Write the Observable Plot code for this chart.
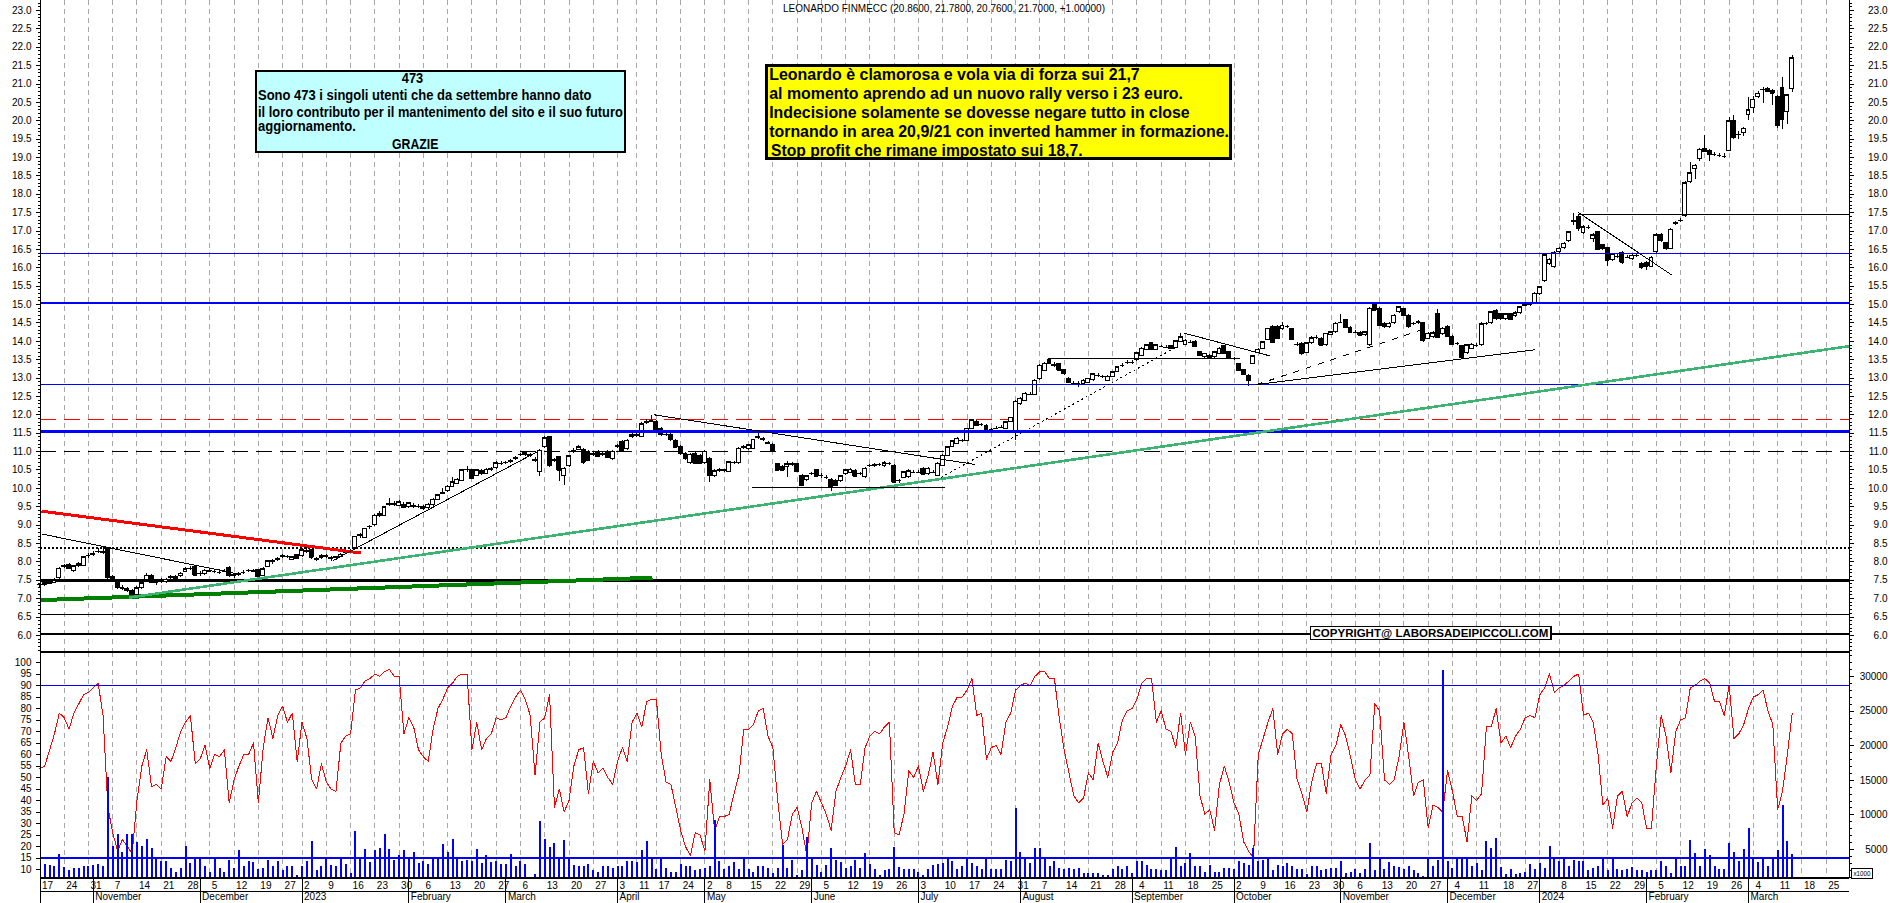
<!DOCTYPE html>
<html><head><meta charset="utf-8">
<script src="https://cdn.jsdelivr.net/npm/d3@7"></script>
<script src="https://cdn.jsdelivr.net/npm/@observablehq/plot@0.6"></script>
<style>
html,body{margin:0;padding:0;background:#fff;overflow:hidden}
#root{position:relative;width:1890px;height:903px;background:#fff;overflow:hidden}
#root svg{position:absolute;left:0;display:block;max-width:none}
</style></head><body><div id="root"></div>
<script>
// ---------------- DATA ----------------
const TITLE_NAME = "LEONARDO FINMECC";
const LAST_CHANGE = 1.0;
const START_DATE = "2022-10-17", END_DATE = "2024-03-28";
const HOLIDAYS = ["2022-12-26","2023-04-07","2023-04-10","2023-05-01","2023-12-25","2023-12-26","2024-01-01","2024-03-29"];
const WEEK_LABEL_SKIP = ["2024-01-02"];
const MONTH_NAMES = ["January","February","March","April","May","June","July","August","September","October","November","December"];

// daily candles [open, high, low, close]
const CANDLES = [
[7.36,7.42,7.30,7.38],[7.38,7.46,7.34,7.42],[7.48,7.52,7.38,7.40],[7.42,7.56,7.40,7.50],[7.55,7.86,7.52,7.82],[7.86,7.92,7.82,7.88],[7.92,7.96,7.80,7.82],[7.76,7.90,7.72,7.88],[7.90,7.98,7.86,7.93],[7.90,8.16,7.88,8.13],
[8.15,8.24,8.10,8.17],[8.20,8.28,8.14,8.22],[8.26,8.36,8.22,8.28],[8.28,8.38,8.20,8.25],[8.38,8.40,7.52,7.57],[7.60,7.64,7.46,7.50],[7.50,7.52,7.26,7.30],[7.30,7.36,7.22,7.28],[7.25,7.30,7.16,7.22],[7.22,7.26,7.03,7.08],
[7.10,7.32,7.06,7.28],[7.30,7.46,7.26,7.42],[7.50,7.68,7.46,7.62],[7.62,7.66,7.40,7.45],[7.44,7.50,7.36,7.43],[7.46,7.54,7.42,7.48],[7.44,7.56,7.40,7.52],[7.56,7.62,7.52,7.58],[7.60,7.64,7.52,7.56],[7.62,7.72,7.58,7.68],
[7.72,7.84,7.70,7.80],[7.80,7.88,7.76,7.82],[7.86,7.88,7.60,7.64],[7.66,7.74,7.60,7.68],[7.68,7.80,7.64,7.76],[7.76,7.80,7.70,7.75],[7.74,7.78,7.68,7.74],[7.72,7.78,7.66,7.72],[7.74,7.80,7.70,7.74],[7.84,7.88,7.58,7.62],
[7.62,7.68,7.56,7.64],[7.64,7.72,7.60,7.66],[7.70,7.76,7.66,7.70],[7.74,7.80,7.70,7.76],[7.76,7.80,7.70,7.74],[7.78,7.80,7.56,7.60],[7.62,7.84,7.60,7.80],[7.86,8.04,7.84,8.02],[8.02,8.06,7.94,8.00],[8.06,8.12,8.02,8.08],
[8.14,8.20,8.10,8.15],[8.14,8.18,8.08,8.14],[8.06,8.16,8.04,8.12],[8.18,8.20,8.08,8.10],[8.15,8.36,8.12,8.32],[8.30,8.38,8.22,8.28],[8.32,8.34,8.06,8.12],[8.08,8.12,8.00,8.06],[8.10,8.20,8.06,8.15],[8.15,8.20,8.10,8.14],
[8.10,8.14,8.02,8.08],[8.10,8.16,8.04,8.12],[8.14,8.22,8.12,8.20],[8.24,8.30,8.20,8.26],[8.28,8.34,8.24,8.30],[8.38,8.70,8.36,8.68],[8.70,8.78,8.64,8.72],[8.66,8.92,8.64,8.90],[8.94,9.00,8.88,8.96],[8.99,9.28,8.96,9.26],
[9.24,9.36,9.20,9.30],[9.26,9.52,9.24,9.49],[9.56,9.72,9.52,9.58],[9.58,9.64,9.50,9.56],[9.53,9.66,9.50,9.62],[9.56,9.62,9.44,9.47],[9.48,9.62,9.46,9.60],[9.52,9.58,9.46,9.50],[9.50,9.56,9.44,9.50],[9.50,9.54,9.40,9.44],
[9.46,9.58,9.42,9.55],[9.54,9.72,9.52,9.69],[9.69,9.84,9.66,9.81],[9.86,10.00,9.82,9.88],[9.94,10.08,9.90,10.05],[10.05,10.30,10.02,10.17],[10.12,10.26,10.10,10.23],[10.21,10.52,10.18,10.49],[10.50,10.60,10.44,10.50],[10.49,10.52,10.24,10.26],
[10.35,10.52,10.32,10.49],[10.48,10.52,10.36,10.40],[10.40,10.54,10.38,10.50],[10.50,10.56,10.46,10.52],[10.55,10.72,10.52,10.69],[10.68,10.72,10.62,10.68],[10.70,10.74,10.64,10.70],[10.72,10.78,10.68,10.74],[10.80,10.86,10.76,10.83],[10.90,10.96,10.86,10.92],
[10.96,11.00,10.88,10.91],[10.90,10.94,10.84,10.89],[10.78,10.84,10.70,10.76],[10.44,11.06,10.32,11.03],[11.12,11.40,11.08,11.37],[11.39,11.42,10.58,10.62],[10.74,10.82,10.70,10.76],[10.85,10.88,10.20,10.49],[10.35,10.56,10.08,10.53],[10.62,10.90,10.58,10.87],
[11.00,11.08,10.96,11.03],[11.05,11.16,11.02,11.12],[11.05,11.08,10.66,10.71],[10.98,11.02,10.72,10.76],[10.92,10.98,10.88,10.94],[10.99,11.02,10.84,10.87],[10.92,10.98,10.88,10.94],[10.99,11.02,10.82,10.85],[10.80,11.02,10.76,10.99],[11.12,11.18,11.08,11.14],
[11.26,11.30,10.98,11.01],[11.08,11.34,11.04,11.30],[11.40,11.48,11.36,11.44],[11.42,11.50,11.38,11.44],[11.41,11.78,11.38,11.74],[11.78,11.86,11.74,11.80],[11.82,11.98,11.78,11.83],[11.80,11.84,11.54,11.57],[11.62,11.66,11.42,11.46],[11.46,11.50,11.40,11.46],
[11.44,11.48,11.28,11.32],[11.30,11.34,11.08,11.12],[11.12,11.16,10.90,10.94],[10.94,10.98,10.76,10.80],[10.69,10.96,10.66,10.92],[10.94,10.98,10.66,10.69],[10.87,10.92,10.66,10.69],[10.69,11.04,10.66,11.00],[10.80,10.84,10.17,10.35],[10.35,10.50,10.30,10.47],
[10.47,10.54,10.44,10.49],[10.48,10.52,10.44,10.49],[10.44,10.74,10.42,10.71],[10.70,10.74,10.66,10.70],[10.69,11.10,10.66,11.08],[11.10,11.16,11.06,11.12],[11.08,11.20,11.04,11.17],[11.08,11.34,11.06,11.32],[11.38,11.50,11.34,11.40],[11.34,11.38,11.28,11.32],
[11.24,11.28,11.18,11.22],[11.19,11.22,11.00,11.03],[10.65,10.68,10.46,10.49],[10.58,10.62,10.46,10.49],[10.58,10.72,10.30,10.65],[10.64,10.70,10.60,10.66],[10.65,10.68,10.44,10.47],[10.35,10.38,10.06,10.08],[10.22,10.36,10.18,10.33],[10.38,10.44,10.34,10.40],
[10.49,10.52,10.30,10.33],[10.34,10.40,10.28,10.35],[10.30,10.34,10.24,10.30],[10.24,10.26,9.92,10.03],[10.21,10.24,10.04,10.08],[10.20,10.36,10.16,10.33],[10.38,10.52,10.34,10.49],[10.42,10.54,10.40,10.51],[10.47,10.50,10.30,10.33],[10.38,10.44,10.34,10.40],
[10.31,10.56,10.28,10.53],[10.60,10.66,10.56,10.62],[10.62,10.68,10.58,10.64],[10.64,10.68,10.60,10.64],[10.60,10.72,10.58,10.69],[10.66,10.70,10.62,10.67],[10.60,10.64,10.14,10.17],[10.20,10.24,10.14,10.21],[10.28,10.46,10.26,10.44],[10.31,10.50,10.28,10.47],
[10.44,10.48,10.40,10.44],[10.44,10.48,10.40,10.44],[10.53,10.56,10.36,10.38],[10.38,10.56,10.36,10.53],[10.44,10.48,10.40,10.44],[10.35,10.70,10.32,10.67],[10.62,10.92,10.60,10.89],[10.89,11.14,10.86,11.12],[11.12,11.30,11.10,11.28],[11.21,11.38,11.18,11.35],
[11.30,11.34,11.26,11.30],[11.30,11.64,11.28,11.62],[11.62,11.88,11.60,11.85],[11.80,11.84,11.68,11.71],[11.73,11.76,11.68,11.73],[11.71,11.74,11.54,11.57],[11.59,11.62,11.55,11.59],[11.64,11.68,11.60,11.64],[11.66,11.70,11.62,11.66],[11.62,11.82,11.60,11.80],
[11.80,11.94,11.78,11.92],[11.53,12.38,11.30,12.35],[12.30,12.46,12.26,12.44],[12.39,12.60,12.36,12.57],[12.56,12.62,12.52,12.56],[12.55,12.96,12.52,12.93],[12.98,13.38,12.94,13.34],[13.20,13.42,13.18,13.39],[13.48,13.52,13.36,13.39],[13.36,13.42,13.30,13.34],
[13.37,13.40,13.18,13.21],[13.21,13.24,13.08,13.12],[12.98,13.02,12.86,12.89],[12.86,12.92,12.80,12.86],[12.86,12.90,12.75,12.86],[12.84,12.96,12.80,12.93],[12.88,13.00,12.86,12.98],[12.95,13.12,12.92,13.10],[13.07,13.12,13.02,13.07],[13.03,13.08,12.98,13.03],
[12.93,13.06,12.90,13.03],[13.04,13.18,13.02,13.16],[13.16,13.32,13.14,13.30],[13.34,13.40,13.30,13.34],[13.43,13.48,13.38,13.43],[13.43,13.48,13.38,13.43],[13.48,13.70,13.46,13.68],[13.61,13.84,13.58,13.80],[13.77,13.92,13.74,13.89],[13.95,13.98,13.74,13.77],
[13.77,13.92,13.74,13.89],[13.86,13.90,13.82,13.86],[13.84,13.88,13.80,13.84],[13.86,13.90,13.78,13.80],[13.82,14.02,13.80,14.00],[13.98,14.22,13.96,14.11],[13.91,14.04,13.88,14.02],[13.98,14.02,13.94,13.98],[13.99,14.02,13.84,13.86],[13.70,13.72,13.58,13.61],
[13.57,13.68,13.54,13.66],[13.61,13.64,13.50,13.52],[13.57,13.72,13.54,13.70],[13.66,13.82,13.64,13.80],[13.86,13.88,13.64,13.66],[13.70,13.72,13.54,13.57],[13.52,13.56,13.48,13.52],[13.37,13.40,13.18,13.21],[13.22,13.24,13.06,13.09],[13.07,13.10,12.77,12.93],
[13.39,13.62,13.36,13.59],[13.68,13.80,13.66,13.77],[13.80,14.00,13.78,13.98],[14.04,14.36,14.02,14.34],[14.39,14.42,13.96,13.98],[14.39,14.42,14.04,14.07],[14.34,14.52,14.30,14.43],[14.39,14.44,14.34,14.39],[14.34,14.36,14.02,14.04],[13.91,13.96,13.86,13.91],
[13.93,13.96,13.62,13.66],[13.68,13.98,13.66,13.95],[13.95,14.12,13.92,14.09],[14.11,14.16,14.06,14.11],[14.07,14.10,13.86,13.89],[13.89,14.22,13.86,14.20],[14.18,14.28,14.16,14.25],[14.25,14.50,14.22,14.48],[14.52,14.72,14.48,14.52],[14.57,14.60,14.34,14.37],
[14.37,14.40,14.22,14.25],[14.25,14.30,14.20,14.25],[14.22,14.26,14.12,14.16],[14.18,14.28,14.14,14.25],[13.89,14.92,13.86,14.88],[14.98,15.02,14.80,14.84],[14.88,14.92,14.40,14.43],[14.48,14.52,14.36,14.39],[14.39,14.52,14.36,14.48],[14.49,14.74,14.46,14.70],
[14.79,14.96,14.76,14.93],[14.88,14.90,14.68,14.70],[14.70,14.74,14.36,14.39],[14.46,14.52,14.42,14.48],[14.50,14.56,14.46,14.52],[14.49,14.52,13.98,14.02],[14.07,14.24,14.04,14.20],[14.11,14.26,14.08,14.22],[14.75,14.86,14.08,14.11],[14.20,14.38,14.16,14.34],
[14.39,14.42,14.10,14.13],[14.13,14.16,13.88,13.91],[13.93,13.96,13.88,13.93],[13.86,13.90,13.52,13.57],[13.68,13.92,13.64,13.89],[13.80,13.94,13.78,13.91],[13.89,13.94,13.84,13.89],[13.89,14.50,13.86,14.46],[14.48,14.52,14.44,14.48],[14.49,14.82,14.46,14.79],
[14.82,14.86,14.58,14.61],[14.73,14.76,14.58,14.61],[14.61,14.76,14.58,14.73],[14.73,14.76,14.56,14.59],[14.68,14.80,14.64,14.77],[14.77,14.96,14.74,14.93],[14.96,15.02,14.94,14.98],[14.98,15.04,14.96,15.00],[15.04,15.32,15.02,15.29],[15.29,15.50,15.26,15.47],
[15.65,16.38,15.60,16.34],[16.11,16.26,16.06,16.22],[16.02,16.44,15.98,16.40],[16.43,16.56,16.40,16.52],[16.54,16.68,16.50,16.65],[16.74,17.00,16.70,16.97],[17.24,17.47,17.15,17.27],[17.38,17.42,17.00,17.08],[16.94,17.14,16.90,17.11],[17.10,17.16,17.04,17.10],
[16.79,16.92,16.70,16.88],[16.97,17.00,16.46,16.49],[16.61,16.64,16.48,16.52],[16.54,16.56,16.04,16.20],[16.20,16.40,16.16,16.36],[16.31,16.36,16.26,16.31],[16.40,16.44,16.10,16.15],[16.29,16.34,16.24,16.29],[16.24,16.38,16.20,16.33],[16.33,16.38,16.28,16.33],
[16.11,16.14,15.96,16.02],[16.13,16.16,15.94,16.04],[16.03,16.30,16.00,16.27],[16.43,16.92,16.40,16.88],[16.88,16.92,16.70,16.74],[16.67,16.70,16.48,16.52],[16.52,17.08,16.50,17.03],[17.18,17.26,17.14,17.21],[17.26,17.34,17.22,17.28],[17.40,18.34,17.36,18.30],
[18.33,18.86,18.30,18.57],[18.69,18.80,18.40,18.78],[18.96,19.24,18.90,19.21],[19.24,19.60,19.14,19.17],[19.19,19.22,18.90,19.08],[19.08,19.14,19.02,19.08],[19.06,19.12,19.00,19.06],[19.04,19.10,18.98,19.04],[19.19,20.10,19.16,19.99],[19.99,20.14,19.50,19.54],
[19.64,19.72,19.50,19.64],[19.66,19.82,19.56,19.78],[20.17,20.62,20.00,20.28],[20.35,20.66,20.20,20.57],[20.66,20.80,20.60,20.73],[20.86,20.90,20.46,20.86],[20.87,20.90,20.76,20.80],[20.80,20.84,20.42,20.75],[20.66,20.70,19.80,19.87],[20.90,21.17,19.75,20.03],
[20.23,20.72,19.90,20.69],[20.86,21.78,20.76,21.70]
];

// oscillator (left scale of lower pane)
const OSC = [
54,55,62,69,78,76,71,78,82,86, 87,89,91,77,37,26,18,23,20,17, 40,55,62,46,47,45,59,57,63,70, 74,77,56,58,64,54,60,59,62,39,
49,55,60,60,65,39,63,76,67,77, 81,74,78,57,74,67,49,45,56,48, 45,44,65,68,69,88,89,92,93,95, 94,96,97,94,94,69,76,72,62,59,
57,71,80,84,89,91,94,95,95,62, 74,62,67,69,76,75,76,81,85,88, 84,77,51,74,76,86,37,45,35,40, 55,62,63,43,57,52,54,50,47,57,
63,57,74,78,72,83,84,84,60,48, 47,37,27,20,16,26,25,18,49,27, 33,33,34,43,51,71,71,73,79,80, 68,63,40,21,23,34,37,28,16,39,
44,39,34,27,44,50,55,62,47,47, 63,68,70,69,72,74,26,25,34,53, 50,55,44,51,61,47,65,72,81,85, 85,88,93,77,78,58,63,64,60,74,
78,88,90,91,90,94,96,96,93,93, 76,62,52,42,39,41,52,49,65,57, 50,61,65,75,79,80,84,91,93,93, 74,79,71,70,63,78,60,74,68,42,
34,36,27,47,55,48,39,34,22,18, 15,60,67,74,80,60,69,71,69,49, 43,35,48,56,56,43,60,64,73,68, 59,49,45,49,51,82,79,49,47,49,
59,74,59,42,48,49,28,38,37,35, 53,44,33,33,22,42,40,43,72,72, 80,65,68,63,68,71,76,77,76,86, 89,95,87,89,90,92,94,95,77,78,
74,60,38,41,28,42,44,33,39,41, 39,28,28,55,77,68,52,70,75,76, 89,90,92,93,91,83,83,77,90,67, 69,73,80,85,86,88,79,73,36,44,
60,78
];

// volume, in axis units of thousands (axis shows x1000)
const VOLUME_K = [
2.5,2.9,2.7,2.6,4.3,2.4,1.9,2.2,2.2,2.5, 2.5,2.7,2.9,2.6,15.4,5.4,7.2,4.6,7.1,7.1, 6.0,5.4,6.4,5.2,3.7,3.2,3.2,2.2,1.7,2.2,
5.5,3.0,3.7,3.6,2.5,1.7,3.7,2.2,1.7,3.4, 2.2,4.9,2.5,3.3,3.1,2.1,2.2,3.4,2.6,3.2, 2.0,2.6,2.5,1.3,2.5,3.2,6.1,2.0,2.6,3.7,
2.7,2.6,3.7,2.8,1.5,7.6,3.6,5.0,3.1,4.8, 5.1,7.1,5.0,3.4,4.2,4.8,3.7,4.5,3.0,3.3, 2.8,3.9,3.9,5.7,4.6,6.4,3.8,3.3,3.4,3.3,
5.0,3.0,4.2,3.1,3.3,2.9,2.9,4.3,2.6,3.3, 2.8,0.9,1.4,9.1,6.5,5.3,5.9,3.7,6.3,3.7, 2.7,2.5,2.6,2.9,1.9,1.7,2.5,2.6,2.2,2.5,
2.6,3.2,3.2,3.1,4.8,6.1,3.6,2.1,3.9,2.2, 1.7,1.7,2.9,2.6,2.5,2.0,
2.1,2.3,2.5,9.2,3.3,2.1,2.5,3.1,2.1,3.9, 2.1,1.7,2.5,2.6,2.3,1.5,2.2,5.6,2.3,3.4, 1.3,2.0,6.8,3.9,2.7,1.7,2.7,5.1,3.4,3.1,
2.3,2.5,3.4,2.2,4.4,2.8,2.1,1.3,2.0,2.1, 5.3,2.4,2.1,2.1,2.1,1.7,1.3,2.1,2.7,2.8, 3.0,3.9,3.2,2.1,2.5,3.8,3.0,2.5,2.1,3.9,
2.1,2.1,2.1,3.4,3.3,10.9,4.6,3.5,3.0,5.1, 5.1,3.9,2.6,3.2,2.3,2.1,2.3,2.1,2.3,1.6, 1.5,1.6,1.6,1.3,1.3,2.1,2.5,2.1,2.5,1.6,
3.2,3.2,2.7,2.1,2.1,2.0,2.0,3.7,5.3,2.5, 3.0,4.4,2.6,2.6,1.7,2.7,1.7,1.7,2.2,2.2, 2.1,3.2,3.0,2.7,5.1,3.2,3.4,3.7,2.0,2.7,
2.5,3.0,2.6,2.1,2.1,1.4,2.5,2.5,2.0,2.1, 2.2,2.3,3.2,1.6,1.7,2.1,1.5,2.1,5.9,2.0, 3.9,2.1,3.1,2.5,
2.4,
2.1,2.6,2.0,1.5,1.1,3.9,2.5,3.4,30.8,3.2, 2.2,3.9,3.9,3.7,2.5,3.0,2.0,6.2,5.1,6.6, 2.4,1.4,2.1,1.4,1.6,1.7,2.9,2.1,3.0,2.2,
5.5,3.7,3.2,3.8,2.5,3.4,3.2,3.2,1.9,2.3, 2.5,3.5,1.9,3.7,2.1,2.0,2.1,2.4,2.0,2.0, 1.7,1.9,2.0,3.3,2.6,1.6,3.9,2.5,2.5,6.3,
4.4,2.6,5.0,4.2,2.6,2.1,2.1,5.8,4.6,3.3, 5.0,8.0,3.8,3.1,3.9,2.6,3.8,4.9,11.4,6.2, 4.3
];

// horizontal price levels
const BLUE_LEVELS = [16.38, 15.04, 12.82];
const BLUE_THICK_LEVELS = [11.555];
const RED_DASH_LEVELS = [11.87];
const BLACK_DASH_LEVELS = [11.0];
const BLACK_DOT_LEVELS = [8.38];
const BLACK_THICK_LEVELS = [7.49];
const BLACK_LEVELS = [6.56, 6.04];
const OSC_LEVELS = [90, 15];

// trend lines [dayIndex1, price1, dayIndex2, price2]
const THIN_TRENDS = [
  [0.33, 8.76, 40.5, 7.68], [60.4, 8.04, 102.5, 11.0], [126.6, 12.0, 192.7, 10.65],
  [146.8, 10.03, 186.5, 10.03], [207.7, 13.52, 247.3, 13.52], [235.8, 14.22, 253.5, 13.6],
  [251.0, 12.83, 308.0, 13.77], [316.9, 17.45, 372.8, 17.45], [316.9, 17.51, 336.1, 15.81]
];
const DOTTED_TRENDS = [[185.7, 10.3, 234.3, 13.86]];
const DASHED_TRENDS = [[250.6, 12.82, 285.8, 14.36]];
const RED_TRENDS = [[0.33, 9.38, 66.2, 8.24]];
const DARK_GREEN_TRENDS = [[0.12, 6.96, 126.2, 7.57]];
const GREEN_TRENDS = [[18.4, 7.03, 372.8, 13.87]];

const CYAN_NOTE = ["473", "Sono 473 i singoli utenti che da settembre hanno dato", "il loro contributo per il mantenimento del sito e il suo futuro", "aggiornamento.", "GRAZIE"];
const YELLOW_NOTE = ["Leonardo è clamorosa e vola via di forza sui 21,7", "al momento aprendo ad un nuovo rally verso i 23 euro.", "Indecisione solamente se dovesse negare tutto in close", "tornando in area 20,9/21 con inverted hammer in formazione.", "Stop profit che rimane impostato sui 18,7."];
const COPYRIGHT = "COPYRIGHT@ LABORSADEIPICCOLI.COM";

// ---------------- CALENDAR ----------------
const days = [];
for (let t = Date.parse(START_DATE + "T00:00:00Z"); t <= Date.parse(END_DATE + "T00:00:00Z"); t += 86400000) {
  const d = new Date(t), dow = d.getUTCDay(), iso = d.toISOString().slice(0, 10);
  if (dow === 0 || dow === 6 || HOLIDAYS.includes(iso)) continue;
  days.push({i: days.length, date: d, iso});
}
const weeks = days.filter((d, k) => k === 0 || +d3.utcMonday.floor(d.date) !== +d3.utcMonday.floor(days[k - 1].date));
const months = days.filter((d, k) => k > 0 && d.date.getUTCMonth() !== days[k - 1].date.getUTCMonth());
const weekLabel = new Map(weeks.map(d => [d.i, WEEK_LABEL_SKIP.includes(d.iso) ? "" : String(d.date.getUTCDate())]));
const monthLabel = new Map(months.map(d => [d.i, d.date.getUTCMonth() === 0 ? String(d.date.getUTCFullYear()) : MONTH_NAMES[d.date.getUTCMonth()]]));

const candles = CANDLES.map(([o, h, l, c], i) => ({i, o, h, l, c, up: c >= o}));
const osc = OSC.map((v, i) => ({i, v}));
const vol = VOLUME_K.map((v, i) => ({i, v}));

// ---------------- LAYOUT ----------------
const W = 1890, ML = 40, MR = 41;
const X_DOMAIN = [0.12, 372.8];
const FONT = "'Liberation Sans', Arial, Helvetica, sans-serif";
const baseStyle = {fontFamily: FONT, fontSize: "10px", color: "black", background: "white", shapeRendering: "crispEdges"};
const grid = Plot.ruleX(weeks.filter(d => d.i > 0), {x: "i", stroke: "#a8a8a8", strokeDasharray: "5,4", strokeWidth: 1});
const link = (data, o) => Plot.link(data, {x1: d => d[0], y1: d => d[1], x2: d => d[2], y2: d => d[3], ...o});
const priceTicks = d3.range(6, 23.01, 0.5);
const priceMinor = d3.range(5.6, 23.25, 0.1);
const noText = () => "";

const pricePlot = Plot.plot({
  width: W, height: 652, marginLeft: ML, marginRight: MR, marginTop: 0, marginBottom: 0,
  x: {domain: X_DOMAIN, axis: null, label: null},
  y: {domain: [5.535, 23.272], label: null},
  style: baseStyle,
  marks: [
    grid,
    Plot.ruleY(BLACK_LEVELS, {stroke: "black", strokeWidth: 1.3}),
    Plot.ruleY(BLACK_THICK_LEVELS, {stroke: "black", strokeWidth: 2.6}),
    Plot.ruleY(BLACK_DOT_LEVELS, {stroke: "black", strokeWidth: 1.2, strokeDasharray: "2,2"}),
    Plot.ruleY(BLACK_DASH_LEVELS, {stroke: "black", strokeWidth: 1.3, strokeDasharray: "16,8"}),
    Plot.ruleY(RED_DASH_LEVELS, {stroke: "#ff0000", strokeWidth: 1.3, strokeDasharray: "16,8"}),
    Plot.ruleX(candles, {x: "i", y1: "l", y2: "h", stroke: "black", strokeWidth: 1}),
    Plot.rect(candles, {x1: d => d.i - 0.4, x2: d => d.i + 0.4, y1: d => Math.min(d.o, d.c), y2: d => Math.max(d.o, d.c), fill: d => d.up ? "white" : "black", stroke: "black", strokeWidth: 1}),
    Plot.ruleY(candles, {y: "c", x1: d => d.i - 0.45, x2: d => d.i + 0.45, stroke: "black", strokeWidth: 1}),
    Plot.ruleY(BLUE_LEVELS, {stroke: "#0000ff", strokeWidth: 1.3}),
    Plot.ruleY(BLUE_THICK_LEVELS, {stroke: "#0000ff", strokeWidth: 2.6}),
    link(DARK_GREEN_TRENDS, {stroke: "#008000", strokeWidth: 4}),
    link(GREEN_TRENDS, {stroke: "#3cb371", strokeWidth: 2.6}),
    link(RED_TRENDS, {stroke: "#ff0000", strokeWidth: 3}),
    link(THIN_TRENDS, {stroke: "black", strokeWidth: 1}),
    link(DOTTED_TRENDS, {stroke: "black", strokeWidth: 1, strokeDasharray: "2,3"}),
    link(DASHED_TRENDS, {stroke: "black", strokeWidth: 1, strokeDasharray: "6,7"}),
    Plot.axisY({anchor: "left", ticks: priceTicks, tickSize: 4, tickPadding: 5, tickFormat: d => d.toFixed(1), label: null}),
    Plot.axisY({anchor: "left", ticks: priceMinor, tickSize: 2, tickFormat: noText, label: null}),
    Plot.axisY({anchor: "right", ticks: priceTicks, tickSize: 4, tickFormat: noText, label: null}),
    Plot.axisY({anchor: "right", ticks: priceTicks, tickSize: 0, tickPadding: 38, textAnchor: "end", tickFormat: d => d.toFixed(1), label: null}),
    Plot.axisY({anchor: "right", ticks: priceMinor, tickSize: 2, tickFormat: noText, label: null})
  ]
});

const oscPlot = Plot.plot({
  width: W, height: 251, marginLeft: ML, marginRight: MR, marginTop: 0, marginBottom: 25,
  x: {domain: X_DOMAIN, label: null},
  y: {domain: [6.09, 104.35], label: null},
  style: baseStyle,
  marks: [
    grid,
    Plot.line(osc, {x: "i", y: "v", stroke: "#ff0000", strokeWidth: 1}),
    Plot.axisY({anchor: "left", ticks: d3.range(10, 101, 5), tickSize: 4, tickPadding: 5, label: null}),
    Plot.axisX({anchor: "bottom", ticks: weeks.map(d => d.i), tickSize: 0, tickPadding: 2, textAnchor: "start", dx: 2, dy: 1, tickFormat: i => weekLabel.get(i), label: null}),
    Plot.axisX({anchor: "bottom", ticks: months.map(d => d.i), tickSize: 25, tickFormat: noText, label: null}),
    Plot.axisX({anchor: "bottom", ticks: months.map(d => d.i), tickSize: 0, tickPadding: 14.3, textAnchor: "start", dx: 2, tickFormat: i => monthLabel.get(i), label: null})
  ]
});

const volPlot = Plot.plot({
  width: W, height: 251, marginLeft: ML, marginRight: MR, marginTop: 0, marginBottom: 25,
  x: {domain: X_DOMAIN, axis: null, label: null},
  y: {domain: [0.81, 33.47], label: null},
  style: {...baseStyle, background: "transparent"},
  marks: [
    Plot.ruleX(vol, {x: "i", y1: 0, y2: "v", stroke: "#0000ff", strokeWidth: 2, clip: true}),
    Plot.axisY({anchor: "right", ticks: d3.range(5, 31, 5), tickSize: 4, tickFormat: noText, label: null}),
    Plot.axisY({anchor: "right", ticks: d3.range(5, 31, 5), tickSize: 0, tickPadding: 38, textAnchor: "end", tickFormat: d => String(d * 1000), label: null}),
    Plot.axisY({anchor: "right", ticks: d3.range(1, 34, 1), tickSize: 2, tickFormat: noText, label: null})
  ]
});

// osc reference levels drawn on the osc scale, above the volume bars
const oscLevelPlot = Plot.plot({
  width: W, height: 251, marginLeft: ML, marginRight: MR, marginTop: 0, marginBottom: 25,
  x: {domain: X_DOMAIN, axis: null, label: null},
  y: {domain: [6.09, 104.35], axis: null, label: null},
  style: {...baseStyle, background: "transparent"},
  marks: [Plot.ruleY(OSC_LEVELS, {stroke: "#0000ff", strokeWidth: 1.3})]
});

const root = document.getElementById("root");
pricePlot.style.top = "0px";
oscPlot.style.top = "652px";
volPlot.style.top = "652px";
oscLevelPlot.style.top = "652px";
root.append(pricePlot, oscPlot, volPlot, oscLevelPlot);

// ---------------- OVERLAY (frame + annotations) ----------------
const ov = d3.select(root).append("svg").attr("width", W).attr("height", 903).style("top", "0px").style("font-family", FONT);
const hline = (x1, y1, x2, y2, w) => ov.append("line").attr("x1", x1).attr("y1", y1).attr("x2", x2).attr("y2", y2)
  .attr("stroke", "black").attr("stroke-width", w).attr("shape-rendering", "crispEdges");
hline(40, 0, 40, 903, 1);
hline(1849, 0, 1849, 878, 1);
hline(40, 652, 1849, 652, 1.5);
hline(40, 878, 1849, 878, 1.5);
hline(40, 891, 1849, 891, 1);

const rect = (x, y, w, h, fill, sw) => ov.append("rect").attr("x", x).attr("y", y).attr("width", w).attr("height", h)
  .attr("fill", fill).attr("stroke", "black").attr("stroke-width", sw).attr("shape-rendering", "crispEdges");
const text = (s, x, y, len, size, weight) => ov.append("text").attr("x", x).attr("y", y).attr("font-size", size)
  .attr("font-weight", weight).attr("textLength", len).attr("lengthAdjust", "spacingAndGlyphs").attr("fill", "black").text(s);

const last = CANDLES[CANDLES.length - 1];
text(`${TITLE_NAME} (${last[0].toFixed(4)}, ${last[1].toFixed(4)}, ${last[2].toFixed(4)}, ${last[3].toFixed(4)}, +${LAST_CHANGE.toFixed(5)})`, 783, 12.3, 322, 10, "normal");

rect(255.5, 71, 369, 81, "#c0ffff", 2);
const cyanPos = [[401.8, 83.3, 21.4], [258, 100, 333.5], [258, 116.5, 364.8], [258, 131, 97.8], [392, 149, 46.4]];
CYAN_NOTE.forEach((s, k) => text(s, cyanPos[k][0], cyanPos[k][1], cyanPos[k][2], 14, "bold"));

rect(766.5, 65.3, 464, 93, "#ffff00", 2.5);
const yellowPos = [[769.2, 80, 370.5], [769.2, 99.3, 413.8], [769.2, 118.3, 420.5], [769.2, 137.3, 459.8], [771, 156, 311.5]];
YELLOW_NOTE.forEach((s, k) => text(s, yellowPos[k][0], yellowPos[k][1], yellowPos[k][2], 16, "bold"));

rect(1310.5, 626.5, 240.5, 13, "white", 1.5);
text(COPYRIGHT, 1312.5, 636.8, 235.8, 10.5, "bold");

rect(1851.5, 868.5, 21, 9.5, "white", 1);
text("x1000", 1853.5, 875.8, 17, 7.5, "normal");
</script></body></html>
